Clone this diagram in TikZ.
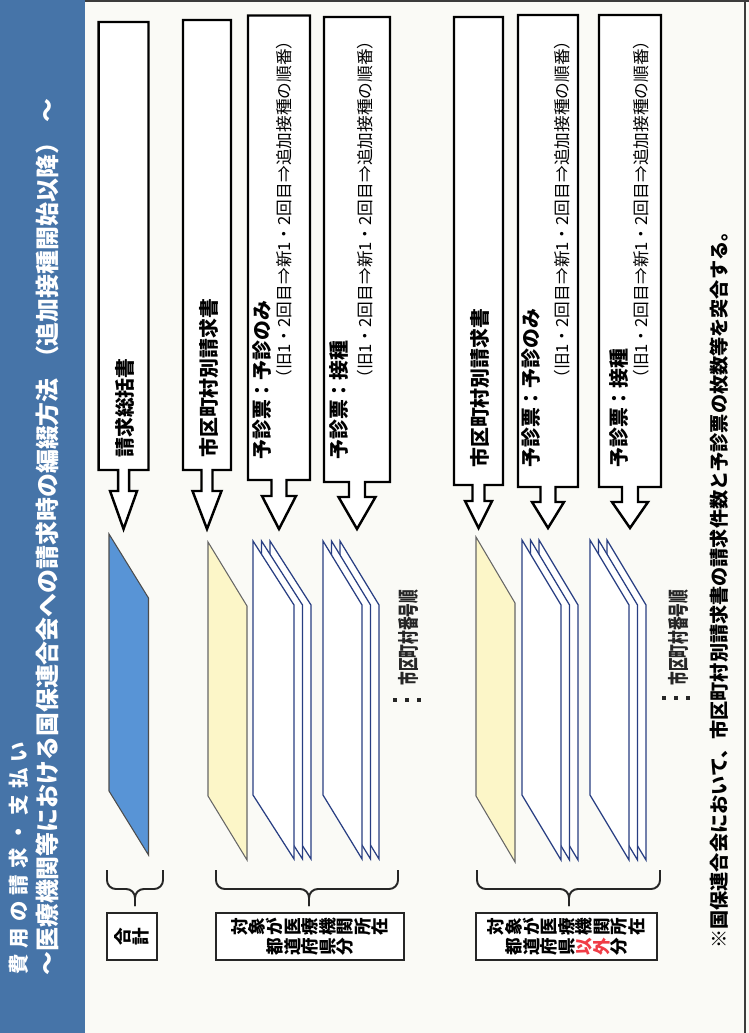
\documentclass[tikz,border=0pt]{standalone}
\usepackage{fontspec}
\setmainfont{Noto Sans CJK JP}
\usepackage{graphicx}
\definecolor{band}{RGB}{70,116,168}
\definecolor{sheetblue}{RGB}{88,148,214}
\definecolor{sheetyellow}{RGB}{252,246,200}
\definecolor{navy}{RGB}{40,62,130}
\definecolor{paper}{RGB}{250,250,246}
\definecolor{redtxt}{RGB}{240,60,70}
\definecolor{framec}{RGB}{60,60,60}
% rotated characters in a row (vertical writing seen rotated)
\def\rc#1{\ifx\relax#1\else\rotatebox{90}{\raisebox{0pt}[0.88em][0.12em]{#1}}\expandafter\rc\fi}
% letter spaced text
\newcommand\lsp[2]{\def\lspk{#1}\lspi#2\relax}
\def\lspi#1{\ifx\relax#1\else#1\kern\lspk\expandafter\lspi\fi}
% block arrow: xl xr yt yb neckhalf headtop headhalf tip
\newcommand\barrow[8]{%
 \draw[arrowbox] (#1,#3) -- (#2,#3) -- (#2,#4) -- ({(#1+#2)/2+#5},#4) -- ({(#1+#2)/2+#5},#6) -- ({(#1+#2)/2+#7},#6) -- ({(#1+#2)/2},#8) -- ({(#1+#2)/2-#7},#6) -- ({(#1+#2)/2-#5},#6) -- ({(#1+#2)/2-#5},#4) -- (#1,#4) -- cycle;}
% sheet: style xl xr yt yb dy
\newcommand\sheet[6]{%
 \filldraw[#1] (#2,#4) -- (#3,{#4+#6}) -- (#3,{#5+#6}) -- (#2,#5) -- cycle;}
% stack of three sheets: xl width yt yb dy
\newcommand\sheetstack[5]{%
 \sheet{stacksheet}{#1+17}{#1+17+#2}{#3}{#4}{#5}
 \sheet{stacksheet}{#1+8.5}{#1+8.5+#2}{#3}{#4}{#5}
 \sheet{stacksheet}{#1}{#1+#2}{#3}{#4}{#5}}
% brace: xa xb xc ytop ymid ytip
\newcommand\bracket[6]{%
 \draw[bracestyle] (#1,#4) -- (#1,#5) -- (#3,#5) -- (#3,#6);
 \draw[bracestyle] (#2,#4) -- (#2,#5) -- (#3,#5) -- (#3,#6);}
\begin{document}
\begin{tikzpicture}[x=0.02cm,y=-0.02cm,
  arrowbox/.style={draw=black, line width=1.4pt, fill=white, line join=miter},
  lbl/.style={rotate=90, anchor=west, inner sep=0pt, font=\bfseries\fontsize{11.3}{12}\selectfont},
  sublbl/.style={rotate=90, anchor=west, inner sep=0pt, font=\fontsize{9.5}{10}\selectfont},
  titlea/.style={rotate=90, anchor=west, inner sep=0pt, text=white, font=\bfseries\fontsize{11.6}{12}\selectfont},
  titleb/.style={rotate=90, anchor=west, inner sep=0pt, text=white, font=\bfseries\fontsize{13.6}{14}\selectfont},
  note/.style={rotate=90, anchor=west, inner sep=0pt, font=\bfseries\fontsize{10.9}{11}\selectfont},
  order/.style={rotate=90, anchor=west, inner sep=0pt, text=black!85, font=\bfseries\fontsize{12}{13}\selectfont},
  sumbox/.style={draw=black!85, line width=1.3pt, fill=white, minimum height=0.94cm, inner sep=0pt, align=center, font=\bfseries\fontsize{10}{11.6}\selectfont},
  bluesheet/.style={fill=sheetblue, draw=black!70, line width=0.6pt},
  yellowsheet/.style={fill=sheetyellow, draw=black!60, line width=0.6pt},
  stacksheet/.style={fill=white, draw=navy, line width=0.7pt},
  bracestyle/.style={draw=black!85, line width=1.1pt, rounded corners=5pt},
  dotmark/.style={fill=black!85}]
\fill[paper] (0,0) rectangle (749,1033);
\useasboundingbox (0,0) rectangle (749,1033);
% title band
\fill[band] (0,0) rectangle (85,1033);
\draw[framec, line width=1.4pt] (85,1.2) -- (749,1.2);
\draw[framec, line width=1pt] (745,0) -- (745,1033);
\node[titlea] (title1) at (19,975) {\lsp{3.5pt}{費用の請求・支払い}};
\node[titleb] (title2) at (47,976) {～医療機関等における国保連合会への請求時の編綴方法\hspace{0.35em}（追加接種開始以降）\hspace{0.35em}～};
% block arrows, left group
\barrow{98.6}{148.5}{22}{470}{5.5}{491}{13.5}{529}
\barrow{183}{231}{20}{470}{5.5}{491}{14.5}{529}
\barrow{248}{310}{15.5}{480}{7.5}{496}{17}{529}
\barrow{324}{390}{17}{482}{8}{497}{18.5}{529}
% right group
\barrow{454}{503}{17}{485}{6}{501}{13.5}{528}
\barrow{518}{578}{15}{487}{7.5}{502}{16}{528}
\barrow{599}{661}{15}{487}{8}{502}{18}{528}
% arrow labels
\node[lbl] (t1) at (125,458) {請求総括書};
\node[lbl] (t2) at (209,458) {市区町村別請求書};
\node[lbl] (t3) at (262,460) {予診票：予診のみ};
\node[sublbl] (t3s) at (284,387) {（旧1・2回目⇒新1・2回目⇒追加接種の順番）};
\node[lbl] (t4) at (339,460) {予診票：接種};
\node[sublbl] (t4s) at (365,387) {（旧1・2回目⇒新1・2回目⇒追加接種の順番）};
\node[lbl] (t5) at (480,468) {市区町村別請求書};
\node[lbl] (t6) at (531,468) {予診票：予診のみ};
\node[sublbl] (t6s) at (562,387) {（旧1・2回目⇒新1・2回目⇒追加接種の順番）};
\node[lbl] (t7) at (619,468) {予診票：接種};
\node[sublbl] (t7s) at (641,387) {（旧1・2回目⇒新1・2回目⇒追加接種の順番）};
% sheets
\sheet{bluesheet}{109}{148.5}{534}{791}{64}
\sheet{yellowsheet}{208}{247}{542}{796}{64}
\sheetstack{253}{41}{541}{795}{64}
\sheetstack{323}{39}{541}{795}{64}
\sheet{yellowsheet}{476}{515}{537}{796}{66}
\sheetstack{522}{39}{540}{795}{65}
\sheetstack{590}{39}{540}{795}{65}
% order notes
\node[order] (ord1) at (408,686) {\scalebox{0.65}[1]{市区町村番号順}};
\node[order] (ord2) at (678,686) {\scalebox{0.65}[1]{市区町村番号順}};
\foreach \x in {395,407,419} \fill[dotmark] (\x-2,698) rectangle (\x+2,702);
\foreach \x in {664,676,688} \fill[dotmark] (\x-2,696) rectangle (\x+2,700);
% braces
\bracket{107}{163}{135}{870}{889}{906}
\bracket{216}{398}{309}{870}{889}{906}
\bracket{477}{660}{569}{870}{889}{906}
% category boxes
\node[sumbox, minimum width=1cm] (sum) at (132,936.5) {\rc 合計\relax};
\node[sumbox, minimum width=3.76cm] (pref) at (310,936.5) {\rc 対象が医療機関所在\relax\\\rc 都道府県分\relax};
\node[sumbox, minimum width=3.62cm] (other) at (566.5,936.5) {\rc 対象が医療機関所在\relax\\\rc 都道府県\relax\textcolor{redtxt}{\rc 以外\relax}\rc 分\relax};
% footnote
\node[note] (fn) at (719,949) {※国保連合会において、市区町村別請求書の請求件数と予診票の枚数等を突合する。};
\end{tikzpicture}
\end{document}
